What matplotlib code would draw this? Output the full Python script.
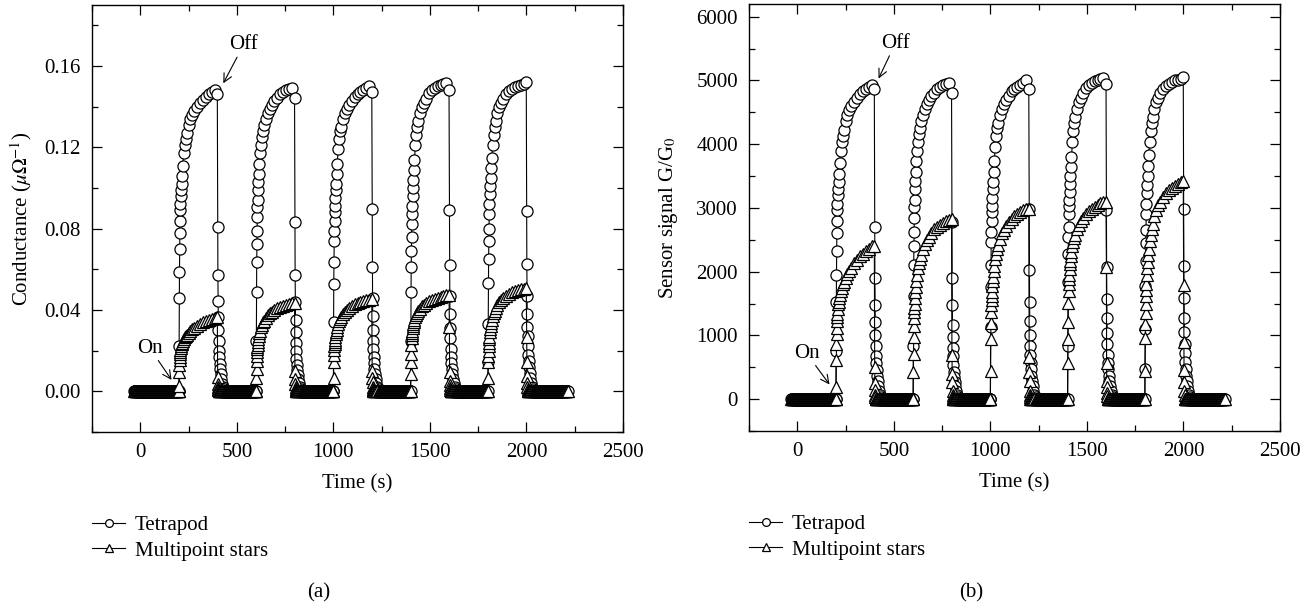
import matplotlib
matplotlib.use("Agg")
import matplotlib.pyplot as plt
from matplotlib.lines import Line2D
from matplotlib.ticker import MultipleLocator, FormatStrFormatter

plt.rcParams['font.family'] = ['Liberation Serif', 'DejaVu Serif']
plt.rcParams['mathtext.fontset'] = 'stix'
plt.rcParams['font.size'] = 15

# gas switched on at these times (s), switched off 200 s later
on_times = [200, 600, 1000, 1400, 1800]
# sample offsets (s) after switching on / off
rise_dt = [0, 1, 2, 3, 4, 5, 6, 7, 8, 10, 12, 14, 17, 20, 25, 30, 35, 40, 50, 60,
           70, 80, 95, 110, 125, 140, 155, 170, 185, 199]
decay_dt = [1, 2, 3, 4, 5, 6, 7, 9, 11, 13, 16, 19, 23, 28, 34, 40]
# flat zero baseline, logged every 2 s: before the first pulse, after each pulse
start_t = list(range(-30, 200, 2))
recover_dt = list(range(42, 200, 2))
tail_extra = [200, 204, 208, 212, 216]

# (a) conductance, Tetrapod
tetra_cond_rise = [
    [0, 0.0225, 0.046, 0.0585, 0.070, 0.078, 0.084, 0.089, 0.092, 0.096, 0.099, 0.102, 0.106, 0.111, 0.117,
     0.121, 0.124, 0.127, 0.131, 0.134, 0.136, 0.138, 0.140, 0.142, 0.1435, 0.145, 0.146, 0.147, 0.148, 0.146],
    [0, 0.025, 0.0487, 0.0635, 0.0725, 0.079, 0.0856, 0.0905, 0.094, 0.099, 0.103, 0.107, 0.112, 0.117, 0.121,
     0.125, 0.128, 0.131, 0.134, 0.137, 0.139, 0.141, 0.143, 0.1445, 0.146, 0.147, 0.148, 0.1485, 0.149, 0.1445],
    [0, 0.034, 0.0528, 0.0635, 0.074, 0.079, 0.084, 0.088, 0.091, 0.095, 0.099, 0.102, 0.107, 0.112, 0.119,
     0.124, 0.128, 0.130, 0.134, 0.137, 0.139, 0.141, 0.143, 0.145, 0.146, 0.147, 0.148, 0.149, 0.150, 0.147],
    [0, 0.025, 0.0487, 0.061, 0.069, 0.0758, 0.0823, 0.087, 0.091, 0.096, 0.100, 0.104, 0.109, 0.114, 0.121,
     0.126, 0.130, 0.133, 0.137, 0.140, 0.142, 0.144, 0.1465, 0.148, 0.149, 0.150, 0.1505, 0.151, 0.1515, 0.148],
    [0, 0.0143, 0.033, 0.0535, 0.065, 0.0737, 0.080, 0.087, 0.092, 0.097, 0.101, 0.105, 0.110, 0.115, 0.121,
     0.126, 0.130, 0.133, 0.137, 0.140, 0.142, 0.144, 0.146, 0.1475, 0.1485, 0.1495, 0.150, 0.1505, 0.151, 0.152],
]
tetra_cond_decay = [
    [0.081, 0.057, 0.0445, 0.0364, 0.030, 0.025, 0.020, 0.0167, 0.0134, 0.011, 0.0085, 0.006, 0.0036, 0.002, 0.001, 0],
    [0.0835, 0.057, 0.044, 0.035, 0.029, 0.024, 0.020, 0.016, 0.013, 0.0105, 0.008, 0.006, 0.004, 0.002, 0.001, 0],
    [0.0897, 0.061, 0.046, 0.037, 0.030, 0.025, 0.021, 0.017, 0.014, 0.011, 0.0085, 0.006, 0.004, 0.002, 0.001, 0],
    [0.0892, 0.062, 0.047, 0.038, 0.031, 0.026, 0.021, 0.017, 0.014, 0.011, 0.0085, 0.006, 0.004, 0.002, 0.001, 0],
    [0.0889, 0.0626, 0.047, 0.038, 0.0315, 0.027, 0.0225, 0.018, 0.015, 0.012, 0.009, 0.0065, 0.004, 0.002, 0.001, 0],
]

# (a) conductance, Multipoint stars
stars_cond_rise = [
    [0, 0.0028, 0.0093, 0.013, 0.0155, 0.017, 0.0185, 0.0195, 0.0203, 0.0215, 0.0225, 0.0232, 0.024, 0.0247, 0.0257,
     0.0265, 0.0272, 0.0278, 0.0288, 0.0297, 0.0305, 0.0312, 0.0322, 0.0331, 0.0339, 0.0346, 0.0352, 0.0358, 0.0363, 0.0365],
    [0, 0.0066, 0.011, 0.015, 0.0175, 0.0195, 0.021, 0.022, 0.023, 0.0245, 0.0258, 0.027, 0.0285, 0.0298, 0.0315,
     0.0328, 0.0339, 0.0348, 0.0362, 0.0374, 0.0384, 0.0392, 0.0402, 0.041, 0.0416, 0.0421, 0.0426, 0.043, 0.0433, 0.0435],
    [0, 0.0066, 0.0143, 0.018, 0.0205, 0.0222, 0.0235, 0.0245, 0.0254, 0.0268, 0.028, 0.029, 0.0303, 0.0315, 0.0332,
     0.0345, 0.0356, 0.0365, 0.038, 0.0392, 0.0402, 0.041, 0.042, 0.0428, 0.0435, 0.044, 0.0444, 0.0447, 0.045, 0.0452],
    [0, 0.0085, 0.0143, 0.0185, 0.023, 0.026, 0.0275, 0.0288, 0.0298, 0.0312, 0.0323, 0.0332, 0.0343, 0.0353, 0.0366,
     0.0377, 0.0386, 0.0394, 0.0407, 0.0418, 0.0427, 0.0434, 0.0443, 0.045, 0.0456, 0.0461, 0.0465, 0.0469, 0.0472, 0.0474],
    [0, 0.0066, 0.0143, 0.0175, 0.020, 0.0222, 0.024, 0.0255, 0.0268, 0.029, 0.0306, 0.032, 0.0336, 0.035, 0.0369,
     0.0384, 0.0397, 0.0408, 0.0426, 0.044, 0.0451, 0.046, 0.0471, 0.048, 0.0487, 0.0493, 0.0498, 0.0502, 0.0505, 0.0508],
]
stars_cond_decay = [
    [0.0069, 0.0035, 0.002, 0.001, 0.0005, 0, 0, 0, 0, 0, 0, 0, 0, 0, 0, 0],
    [0.0102, 0.0061, 0.0035, 0.002, 0.001, 0.0005, 0, 0, 0, 0, 0, 0, 0, 0, 0, 0],
    [0.0102, 0.0065, 0.0045, 0.002, 0.001, 0.0005, 0, 0, 0, 0, 0, 0, 0, 0, 0, 0],
    [0.0315, 0.0093, 0.005, 0.003, 0.0015, 0.0008, 0, 0, 0, 0, 0, 0, 0, 0, 0, 0],
    [0.0266, 0.0143, 0.0077, 0.004, 0.002, 0.001, 0, 0, 0, 0, 0, 0, 0, 0, 0, 0],
]

# (b) sensor signal G/G0, Tetrapod
tetra_sig_rise = [
    [0, 750, 1530, 1950, 2330, 2600, 2800, 2960, 3060, 3200, 3300, 3400, 3530, 3700, 3900,
     4030, 4130, 4230, 4360, 4460, 4530, 4600, 4660, 4730, 4780, 4830, 4860, 4900, 4930, 4860],
    [0, 830, 1620, 2110, 2410, 2630, 2850, 3010, 3130, 3300, 3430, 3560, 3730, 3900, 4030,
     4160, 4260, 4360, 4460, 4560, 4630, 4700, 4760, 4810, 4860, 4900, 4930, 4950, 4960, 4810],
    [0, 1130, 1760, 2110, 2460, 2630, 2800, 2930, 3030, 3160, 3300, 3400, 3560, 3730, 3960,
     4130, 4260, 4330, 4460, 4560, 4630, 4700, 4760, 4830, 4860, 4900, 4930, 4960, 5000, 4860],
    [0, 830, 1840, 2280, 2545, 2700, 2910, 3030, 3120, 3250, 3380, 3500, 3650, 3800, 4030,
     4200, 4330, 4430, 4560, 4660, 4730, 4800, 4880, 4930, 4960, 4990, 5010, 5030, 5040, 4950],
    [0, 480, 1100, 1780, 2160, 2450, 2660, 2900, 3060, 3230, 3360, 3500, 3660, 3830, 4030,
     4200, 4330, 4430, 4560, 4660, 4730, 4800, 4860, 4910, 4950, 4980, 5000, 5010, 5030, 5060],
]
tetra_sig_decay = [
    [2700, 1900, 1480, 1210, 1000, 830, 670, 560, 450, 370, 280, 200, 120, 70, 30, 0],
    [2780, 1900, 1470, 1170, 970, 800, 670, 530, 430, 350, 270, 200, 130, 70, 30, 0],
    [2990, 2030, 1530, 1230, 1000, 830, 700, 570, 470, 370, 280, 200, 130, 70, 30, 0],
    [2970, 2070, 1570, 1270, 1030, 870, 700, 570, 470, 370, 280, 200, 130, 70, 30, 0],
    [2980, 2090, 1590, 1280, 1050, 870, 720, 590, 470, 370, 280, 200, 130, 70, 30, 0],
]

# (b) sensor signal G/G0, Multipoint stars
stars_sig_rise = [
    [0, 185, 610, 860, 1020, 1120, 1220, 1290, 1340, 1420, 1490, 1530, 1580, 1630, 1700,
     1750, 1800, 1840, 1900, 1960, 2010, 2060, 2130, 2190, 2240, 2280, 2320, 2360, 2400, 2410],
    [0, 430, 715, 975, 1140, 1270, 1365, 1430, 1495, 1590, 1680, 1755, 1850, 1940, 2050,
     2130, 2200, 2260, 2350, 2430, 2500, 2550, 2610, 2670, 2700, 2740, 2770, 2800, 2815, 2830],
    [0, 440, 950, 1190, 1360, 1470, 1560, 1620, 1680, 1770, 1850, 1920, 2010, 2090, 2200,
     2280, 2360, 2420, 2520, 2600, 2660, 2710, 2780, 2830, 2880, 2910, 2940, 2960, 2980, 2990],
    [0, 560, 940, 1210, 1510, 1700, 1800, 1890, 1950, 2040, 2120, 2170, 2250, 2310, 2400,
     2470, 2530, 2580, 2670, 2740, 2800, 2840, 2900, 2950, 2990, 3020, 3050, 3070, 3090, 3100],
    [0, 440, 960, 1180, 1350, 1490, 1620, 1720, 1800, 1950, 2060, 2150, 2260, 2360, 2480,
     2580, 2670, 2750, 2870, 2960, 3040, 3100, 3170, 3230, 3280, 3320, 3350, 3380, 3400, 3420],
]
stars_sig_decay = [
    [500, 250, 150, 70, 30, 0, 0, 0, 0, 0, 0, 0, 0, 0, 0, 0],
    [700, 400, 265, 130, 66, 33, 0, 0, 0, 0, 0, 0, 0, 0, 0, 0],
    [660, 420, 290, 130, 60, 30, 0, 0, 0, 0, 0, 0, 0, 0, 0, 0],
    [2080, 560, 290, 190, 100, 50, 0, 0, 0, 0, 0, 0, 0, 0, 0, 0],
    [1790, 890, 450, 265, 130, 60, 0, 0, 0, 0, 0, 0, 0, 0, 0, 0],
]


def build_series(rise, decay):
    """Chain the baseline, rise and decay pieces of all cycles into one trace."""
    t = list(start_t)
    v = [0] * len(start_t)
    for k, t_on in enumerate(on_times):
        t_off = t_on + 200
        t += [t_on + d for d in rise_dt]
        v += rise[k]
        t += [t_off + d for d in decay_dt]
        v += decay[k]
        base = recover_dt + tail_extra if k == len(on_times) - 1 else recover_dt
        t += [t_off + d for d in base]
        v += [0] * len(base)
    return t, v


circle_style = dict(color='black', lw=0.8, marker='o', ms=8, mfc='white', mec='black', mew=0.9)
tri_style = dict(color='black', lw=0.8, marker='^', ms=8.5, mfc='white', mec='black', mew=0.9)

W, H = 1304, 608
fig = plt.figure(figsize=(W / 100, H / 100), dpi=100)
ax_a = fig.add_axes([92 / W, 1 - 432 / H, 531 / W, 427 / H])
ax_b = fig.add_axes([749 / W, 1 - 431 / H, 531 / W, 427 / H])

panels = [
    (ax_a, tetra_cond_rise, tetra_cond_decay, stars_cond_rise, stars_cond_decay),
    (ax_b, tetra_sig_rise, tetra_sig_decay, stars_sig_rise, stars_sig_decay),
]
for ax, tr, td, sr, sd in panels:
    t, v = build_series(tr, td)
    ax.plot(t, v, **circle_style)
    t, v = build_series(sr, sd)
    ax.plot(t, v, **tri_style)

    ax.set_xlim(-250, 2500)
    ax.xaxis.set_major_locator(MultipleLocator(500))
    ax.xaxis.set_minor_locator(MultipleLocator(250))
    ax.tick_params(which='both', direction='in', top=True, right=True, width=0.9)
    ax.tick_params(which='major', length=7, pad=8)
    ax.tick_params(which='minor', length=4)
    for sp in ax.spines.values():
        sp.set_linewidth(1.0)
    ax.set_xlabel('Time (s)', labelpad=9)

    handles = [Line2D([], [], **circle_style), Line2D([], [], **tri_style)]
    ax.legend(handles, ['Tetrapod', 'Multipoint stars'], loc='upper left',
              bbox_to_anchor=(0.0, -0.195), frameon=False, borderpad=0, borderaxespad=0,
              handlelength=1.6, handletextpad=0.45, labelspacing=0.3, markerscale=0.7)

ax_a.set_ylim(-0.02, 0.19)
ax_a.yaxis.set_major_locator(MultipleLocator(0.04))
ax_a.yaxis.set_minor_locator(MultipleLocator(0.02))
ax_a.yaxis.set_major_formatter(FormatStrFormatter('%.2f'))
ax_a.set_ylabel(r'Conductance ($\mu\Omega^{-1}$)')
ax_a.yaxis.set_label_coords(-0.11, 0.5)

ax_b.set_ylim(-500, 6200)
ax_b.yaxis.set_major_locator(MultipleLocator(1000))
ax_b.yaxis.set_minor_locator(MultipleLocator(500))
ax_b.set_ylabel(r'Sensor signal G/G$_0$')
ax_b.yaxis.set_label_coords(-0.13, 0.5)

arrow = dict(arrowstyle='->', color='black', lw=0.8, shrinkA=0, shrinkB=0)
ax_a.annotate('Off', xy=(430, 0.1515), xytext=(535, 0.1704), ha='center', va='center', arrowprops=arrow)
ax_a.annotate('On', xy=(162, 0.0056), xytext=(50, 0.0212), ha='center', va='center', arrowprops=arrow)
ax_b.annotate('Off', xy=(421, 5030), xytext=(508, 5581), ha='center', va='center', arrowprops=arrow)
ax_b.annotate('On', xy=(167, 230), xytext=(48, 719), ha='center', va='center', arrowprops=arrow)

fig.text(319 / W, 1 - 593 / H, '(a)', ha='center', va='center')
fig.text(971 / W, 1 - 593 / H, '(b)', ha='center', va='center')

fig.savefig('out.png', dpi=100)
